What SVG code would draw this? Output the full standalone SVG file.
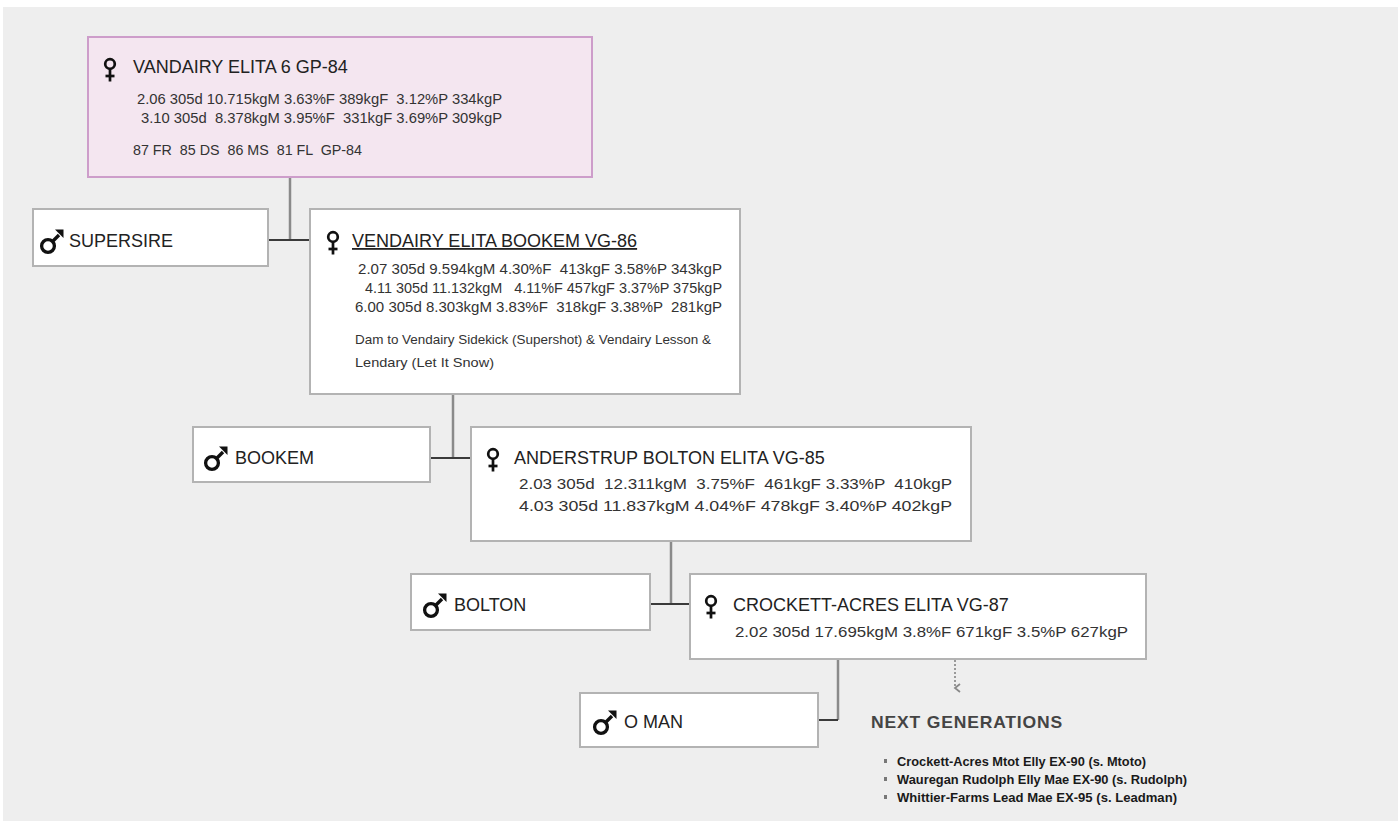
<svg xmlns="http://www.w3.org/2000/svg" width="1398" height="821" viewBox="0 0 1398 821">
<style>
  text { font-family: "Liberation Sans", Arial, sans-serif; fill: #222; }
  .title { font-size: 18px; }
  .stat { font-size: 14.5px; fill: #333; }
  .note { font-size: 13.5px; fill: #333; }
  .box { fill: #ffffff; stroke: #b3b3b3; stroke-width: 2; }
  .topbox { fill: #f4e6f0; stroke: #cd9dca; stroke-width: 2; }
  .vline { stroke: #8a8a8a; stroke-width: 2.5; fill: none; }
  .hline { stroke: #3a3a3a; stroke-width: 2; fill: none; }
  .ng { font-size: 17px; font-weight: bold; fill: #444; letter-spacing: 0.8px; }
  .li { font-size: 13px; font-weight: bold; fill: #1a1a1a; }
</style>
<defs>
  <g id="fem" fill="none" stroke="#111" stroke-width="2.7">
    <circle cx="0" cy="0" r="4.8"/>
    <line x1="0" y1="5" x2="0" y2="17.5"/>
    <line x1="-4.5" y1="12" x2="4.5" y2="12"/>
  </g>
  <g id="mal">
    <circle cx="0" cy="0" r="6.4" fill="none" stroke="#111" stroke-width="3.3"/>
    <line x1="4.5" y1="-4.5" x2="11" y2="-11" stroke="#111" stroke-width="3.3"/>
    <polygon points="7,-16.5 15.5,-16.5 15.5,-8" fill="#111"/>
  </g>
  <marker id="chev" markerWidth="10" markerHeight="8" refX="5" refY="6" orient="auto-start-reverse" markerUnits="userSpaceOnUse" viewBox="0 0 10 8">
    <path d="M1,1 L5,6 L9,1" fill="none" stroke="#888" stroke-width="1.8"/>
  </marker>
</defs>
<rect x="3" y="7" width="1395" height="814" fill="#eeeeee"/>

<g id="connectors">
  <line class="vline" x1="290" y1="177" x2="290" y2="240"/>
  <line class="hline" x1="268" y1="240" x2="310" y2="240"/>
  <line class="vline" x1="453" y1="394" x2="453" y2="458"/>
  <line class="hline" x1="430" y1="458" x2="471" y2="458"/>
  <line class="vline" x1="671" y1="541" x2="671" y2="604"/>
  <line class="hline" x1="650" y1="604" x2="690" y2="604"/>
  <line class="vline" x1="838" y1="659" x2="838" y2="720"/>
  <line class="hline" x1="818" y1="720" x2="838" y2="720"/>
  <line x1="955" y1="660" x2="955" y2="688" stroke="#999" stroke-width="2" stroke-dasharray="2,2" marker-end="url(#chev)"/>
</g>

<g id="node-vandairy-elita-6">
  <rect class="topbox" x="88" y="37" width="504" height="140"/>
  <use href="#fem" x="110" y="64"/>
  <text class="title" x="133" y="73">VANDAIRY ELITA 6 GP-84</text>
  <text class="stat" x="137" y="104" textLength="365" lengthAdjust="spacingAndGlyphs" xml:space="preserve">2.06 305d 10.715kgM 3.63%F 389kgF  3.12%P 334kgP</text>
  <text class="stat" x="141" y="123" textLength="361" lengthAdjust="spacingAndGlyphs" xml:space="preserve">3.10 305d  8.378kgM 3.95%F  331kgF 3.69%P 309kgP</text>
  <text class="stat" x="133" y="155" textLength="229" lengthAdjust="spacingAndGlyphs" xml:space="preserve">87 FR  85 DS  86 MS  81 FL  GP-84</text>
</g>

<g id="node-supersire">
  <rect class="box" x="33" y="209" width="235" height="57"/>
  <use href="#mal" x="48" y="246"/>
  <text class="title" x="69" y="247">SUPERSIRE</text>
</g>

<g id="node-vendairy-elita-bookem">
  <rect class="box" x="310" y="209" width="430" height="185"/>
  <use href="#fem" x="333" y="237"/>
  <text class="title" x="352" y="247" text-decoration="underline">VENDAIRY ELITA BOOKEM VG-86</text>
  <text class="stat" x="358" y="274" textLength="364" lengthAdjust="spacingAndGlyphs" xml:space="preserve">2.07 305d 9.594kgM 4.30%F  413kgF 3.58%P 343kgP</text>
  <text class="stat" x="365" y="293" textLength="357" lengthAdjust="spacingAndGlyphs" xml:space="preserve">4.11 305d 11.132kgM   4.11%F 457kgF 3.37%P 375kgP</text>
  <text class="stat" x="355" y="312" textLength="367" lengthAdjust="spacingAndGlyphs" xml:space="preserve">6.00 305d 8.303kgM 3.83%F  318kgF 3.38%P  281kgP</text>
  <text class="note" x="355" y="344" textLength="356" lengthAdjust="spacingAndGlyphs">Dam to Vendairy Sidekick (Supershot) &amp; Vendairy Lesson &amp;</text>
  <text class="note" x="355" y="367" textLength="139" lengthAdjust="spacingAndGlyphs">Lendary (Let It Snow)</text>
</g>

<g id="node-bookem">
  <rect class="box" x="193" y="427" width="237" height="55"/>
  <use href="#mal" x="212" y="463"/>
  <text class="title" x="235" y="464">BOOKEM</text>
</g>

<g id="node-anderstrup-bolton-elita">
  <rect class="box" x="471" y="427" width="500" height="114"/>
  <use href="#fem" x="493" y="454"/>
  <text class="title" x="514" y="464">ANDERSTRUP BOLTON ELITA VG-85</text>
  <text class="stat" x="519" y="489" textLength="433" lengthAdjust="spacingAndGlyphs" xml:space="preserve">2.03 305d  12.311kgM  3.75%F  461kgF 3.33%P  410kgP</text>
  <text class="stat" x="519" y="511" textLength="433" lengthAdjust="spacingAndGlyphs" xml:space="preserve">4.03 305d 11.837kgM 4.04%F 478kgF 3.40%P 402kgP</text>
</g>

<g id="node-bolton">
  <rect class="box" x="411" y="574" width="239" height="56"/>
  <use href="#mal" x="431" y="610"/>
  <text class="title" x="454" y="611">BOLTON</text>
</g>

<g id="node-crockett-acres-elita">
  <rect class="box" x="690" y="574" width="456" height="85"/>
  <use href="#fem" x="711" y="601"/>
  <text class="title" x="733" y="611">CROCKETT-ACRES ELITA VG-87</text>
  <text class="stat" x="735" y="637" textLength="393" lengthAdjust="spacingAndGlyphs">2.02 305d 17.695kgM 3.8%F 671kgF 3.5%P 627kgP</text>
</g>

<g id="node-o-man">
  <rect class="box" x="580" y="693" width="238" height="54"/>
  <use href="#mal" x="601" y="727"/>
  <text class="title" x="624" y="728">O MAN</text>
</g>

<g id="next-generations">
  <text class="ng" x="871" y="728" textLength="192" lengthAdjust="spacingAndGlyphs">NEXT GENERATIONS</text>
  <rect x="884" y="759" width="3" height="4" fill="#777"/>
  <rect x="884" y="777" width="3" height="4" fill="#777"/>
  <rect x="884" y="795" width="3" height="4" fill="#777"/>
  <text class="li" x="897" y="766" textLength="249" lengthAdjust="spacingAndGlyphs">Crockett-Acres Mtot Elly EX-90 (s. Mtoto)</text>
  <text class="li" x="897" y="784" textLength="290" lengthAdjust="spacingAndGlyphs">Wauregan Rudolph Elly Mae EX-90 (s. Rudolph)</text>
  <text class="li" x="897" y="802" textLength="280" lengthAdjust="spacingAndGlyphs">Whittier-Farms Lead Mae EX-95 (s. Leadman)</text>
</g>
</svg>
